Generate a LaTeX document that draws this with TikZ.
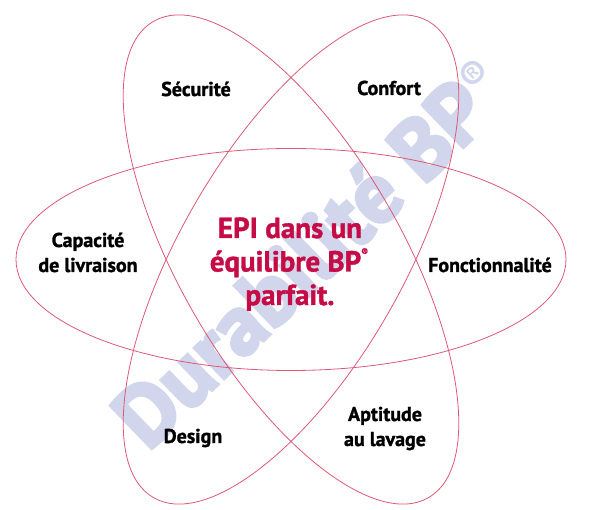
\documentclass[tikz,border=0pt]{standalone}
\usepackage{fontspec}
\setmainfont{PT Sans}[BoldFeatures={FakeBold=1.3}]
\newfontfamily\wmfont{PT Sans}[BoldFeatures={FakeBold=4}]
\newfontfamily\wmreg{PT Sans}
\definecolor{ringc}{RGB}{222,88,118}
\definecolor{ctrc}{RGB}{198,12,70}
\definecolor{wmc}{RGB}{210,214,236}
\begin{document}
\begin{tikzpicture}[x=1pt,y=-1pt,
  ring/.style={draw=ringc, line width=0.8pt},
  lbl/.style={font=\bfseries\fontsize{20}{24}\selectfont, text=black, inner sep=0pt, anchor=base},
  ctr/.style={font=\bfseries\fontsize{29}{33}\selectfont, text=ctrc, inner sep=0pt, anchor=base},
  wm/.style={font=\wmfont\bfseries\fontsize{85}{85}\selectfont, text=wmc, inner sep=0pt, anchor=base west}]
\useasboundingbox (0,0) rectangle (603,510);
\coordinate (o) at (291,259.5);
% watermark
\node[wm, rotate=44] (wmk) at (148,452) {Durabilité BP\kern0.02em\raisebox{0.34em}{\wmreg\fontsize{40}{40}\selectfont ®}};
% ellipses
\draw[ring] (o) ellipse [x radius=275, y radius=111];
\draw[ring, rotate around={60:(o)}] (o) ellipse [x radius=275, y radius=111];
\draw[ring, rotate around={-60:(o)}] (o) ellipse [x radius=275, y radius=111];
% labels
\node[lbl] (sec) at (196,96) {Sécurité};
\node[lbl] (conf) at (389,95) {Confort};
\node[lbl] (cap1) at (88,247) {Capacité};
\node[lbl] (cap2) at (88,272) {de livraison};
\node[lbl] (fonc) at (490,272) {Fonctionnalité};
\node[lbl] (des) at (193,443) {Design};
\node[lbl] (apt1) at (385,421) {Aptitude};
\node[lbl] (apt2) at (385,446) {au lavage};
% centre
\node[ctr] (c1) at (290,238) {EPI dans un};
\node[ctr] (c2) at (289,271.5) {équilibre BP\raisebox{0.55em}{\fontsize{10}{10}\selectfont ®}};
\node[ctr] (c3) at (290,305) {parfait.};
\end{tikzpicture}
\end{document}
